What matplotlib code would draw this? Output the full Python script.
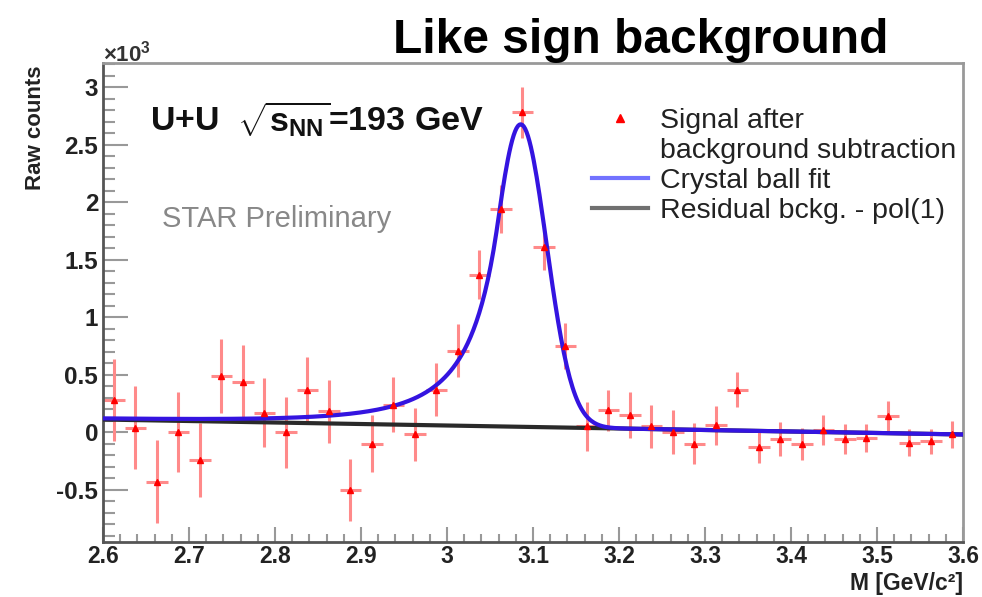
import numpy as np
import matplotlib.pyplot as plt
from matplotlib.ticker import MultipleLocator, FuncFormatter
from matplotlib.lines import Line2D

plt.rcParams['font.family'] = ['Liberation Sans', 'DejaVu Sans']
plt.rcParams['mathtext.fontset'] = 'custom'
plt.rcParams['mathtext.rm'] = 'Liberation Sans:bold'
plt.rcParams['mathtext.it'] = 'Liberation Sans:bold'
plt.rcParams['mathtext.bf'] = 'Liberation Sans:bold'

# histogram: 40 bins from 2.6 to 3.6 GeV/c^2, counts in units of 10^3
mass_lo = 2.6
bin_width = 0.025
counts = [0.28, 0.04, -0.43, 0.00, -0.24, 0.49, 0.44, 0.17, 0.00, 0.37,
          0.18, -0.50, -0.10, 0.24, -0.02, 0.37, 0.71, 1.37, 1.94, 2.78,
          1.61, 0.75, 0.05, 0.19, 0.15, 0.05, 0.00, -0.10, 0.06, 0.37,
          -0.13, -0.06, -0.10, 0.02, -0.06, -0.05, 0.14, -0.09, -0.08, -0.02]
errors = [0.36, 0.36, 0.36, 0.35, 0.32, 0.32, 0.32, 0.30, 0.31, 0.28,
          0.27, 0.27, 0.25, 0.24, 0.23, 0.23, 0.23, 0.21, 0.21, 0.22,
          0.20, 0.20, 0.21, 0.18, 0.20, 0.19, 0.19, 0.18, 0.17, 0.15,
          0.14, 0.15, 0.14, 0.13, 0.13, 0.12, 0.13, 0.12, 0.11, 0.12]

# fit parameters
cb_amp = 2.63
cb_mean = 3.0857
cb_sigma = 0.030
cb_alpha = 0.9
cb_n = 3.0
bg_p0 = 0.448
bg_p1 = -0.13

mass = mass_lo + bin_width * (np.arange(len(counts)) + 0.5)


def crystal_ball(x, amp, mean, sigma, alpha, n):
    t = (x - mean) / sigma
    a = (n / alpha) ** n * np.exp(-alpha ** 2 / 2)
    b = n / alpha - alpha
    core = np.exp(-t ** 2 / 2)
    tail = a * np.abs(b - t) ** (-n)
    return amp * np.where(t > -alpha, core, tail)


def pol1(x, p0, p1):
    return p0 + p1 * x


fig = plt.figure(figsize=(9.82, 5.97), dpi=100)
ax = fig.add_axes([0.1049, 0.0921, 0.8758, 0.8024])

ax.errorbar(mass, counts, xerr=bin_width / 2, yerr=errors, fmt='none',
            ecolor='#ff8a8a', elinewidth=2.2, capsize=0, zorder=2)

xf = np.linspace(2.6, 3.6, 600)
ax.plot(xf, pol1(xf, bg_p0, bg_p1), color='#2a2a2a', lw=3, zorder=3)
ax.plot(xf, crystal_ball(xf, cb_amp, cb_mean, cb_sigma, cb_alpha, cb_n) + pol1(xf, bg_p0, bg_p1),
        color='#3414e0', lw=3, zorder=4)
ax.plot(mass, counts, ls='none', marker='^', color='red', ms=4.5, zorder=5)

ax.set_xlim(2.6, 3.6)
ax.set_ylim(-0.955, 3.21)

ax.xaxis.set_major_locator(MultipleLocator(0.1))
ax.xaxis.set_minor_locator(MultipleLocator(0.02))
ax.yaxis.set_major_locator(MultipleLocator(0.5))
ax.yaxis.set_minor_locator(MultipleLocator(0.1))
ax.xaxis.set_major_formatter(FuncFormatter(lambda v, p: f'{v:g}'))
ax.yaxis.set_major_formatter(FuncFormatter(lambda v, p: f'{v:g}'))

ax.tick_params(axis='y', which='major', direction='in', length=18, width=1.5,
               color='#999999', pad=3.5, labelsize=17.5)
ax.tick_params(axis='y', which='minor', direction='in', length=8.5, width=1.5, color='#999999')
ax.tick_params(axis='x', which='major', direction='in', length=11, width=1.5,
               color='#999999', pad=2.5, labelsize=16.5)
ax.tick_params(axis='x', which='minor', direction='in', length=6, width=1.5, color='#999999')
for lab in ax.get_xticklabels() + ax.get_yticklabels():
    lab.set_fontweight('bold')
    lab.set_color('#222222')

for side in ['left', 'bottom']:
    ax.spines[side].set_color('#555555')
    ax.spines[side].set_linewidth(2)
for side in ['top', 'right']:
    ax.spines[side].set_color('#999999')
    ax.spines[side].set_linewidth(2)

fig.text(0.400, 0.911, 'Like sign background', fontsize=34.5, weight='bold', va='baseline')
fig.text(0.105, 0.897, r'$\times10^{3}$', fontsize=16, color='#333333', va='baseline')
fig.text(0.036, 0.891, 'Raw counts', rotation=90, ha='center', va='top',
         fontsize=16, weight='bold', color='#222222')
fig.text(0.981, 0.011, 'M [GeV/c²]', ha='right', va='baseline',
         fontsize=16.5, weight='bold', color='#222222')

fig.text(0.1530, 0.7794, r'U+U  $\sqrt{s_{NN}}$=193 GeV', fontsize=24.5, weight='bold',
         va='baseline', color='#111111')
fig.text(0.1653, 0.6203, 'STAR Preliminary', fontsize=21, color='#888888', va='baseline')

# legend: the signal label is split so its marker sits on the first line
handles = [Line2D([], [], ls='none', marker='^', color='red', ms=6),
           Line2D([], [], ls='none'),
           Line2D([], [], color='#7272ff', lw=3),
           Line2D([], [], color='#707070', lw=3)]
labels = ['Signal after', 'background subtraction', 'Crystal ball fit', 'Residual bckg. - pol(1)']
leg = ax.legend(handles, labels, loc='upper left', bbox_to_anchor=(592 / 982, 1 - 108 / 597),
                bbox_transform=fig.transFigure, frameon=False, fontsize=20.5,
                borderpad=0, borderaxespad=0, handlelength=1.95, handletextpad=0.45,
                labelspacing=0.14)
for t in leg.get_texts():
    t.set_color('#222222')

fig.savefig('out.png', dpi=100)
